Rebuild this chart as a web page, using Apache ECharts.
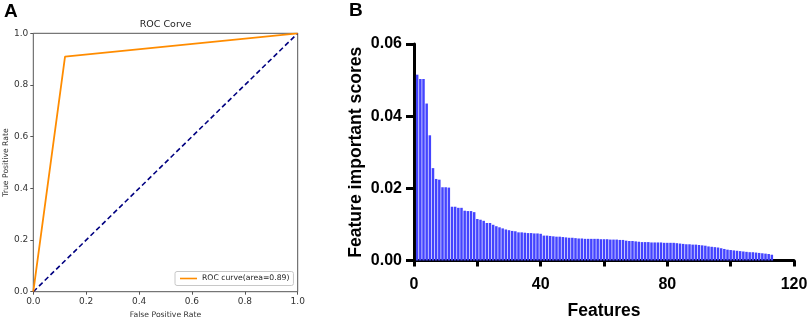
<!DOCTYPE html>
<html><head><meta charset="utf-8">
<script src="https://cdn.jsdelivr.net/npm/echarts@6/dist/echarts.min.js"></script>
<style>html,body{margin:0;padding:0;background:#fff}#c{width:809px;height:320px}</style>
</head><body><div id="c"></div>
<script>
// Panel A: ROC curve
const rocFpr = [0, 0.12, 1];
const rocTpr = [0, 0.91, 1];
const chanceFpr = [0, 1];
const chanceTpr = [0, 1];
const rocLabel = 'ROC curve(area=0.89)';

// Panel B: feature importance
const featureIndex = [1,2,3,4,5,6,7,8,9,10,11,12,13,14,15,16,17,18,19,20,21,22,23,24,25,26,27,28,29,30,31,32,33,34,35,36,37,38,39,40,41,42,43,44,45,46,47,48,49,50,51,52,53,54,55,56,57,58,59,60,61,62,63,64,65,66,67,68,69,70,71,72,73,74,75,76,77,78,79,80,81,82,83,84,85,86,87,88,89,90,91,92,93,94,95,96,97,98,99,100,101,102,103,104,105,106,107,108,109,110,111,112,113];
const importanceScores = [
 0.0515,0.0503,0.0503,0.0435,0.0347,0.0256,0.0226,0.0224,0.0203,0.0203,
 0.0202,0.0149,0.0149,0.0146,0.0146,0.0138,0.0137,0.0137,0.0134,0.0115,
 0.0113,0.0110,0.0104,0.0104,0.0099,0.0095,0.0092,0.0089,0.0086,0.0084,
 0.0082,0.0081,0.0078,0.0078,0.0077,0.0076,0.0076,0.0075,0.0075,0.0074,
 0.0069,0.0069,0.0068,0.0067,0.0066,0.0066,0.0065,0.0064,0.0063,0.0063,
 0.0062,0.0061,0.0061,0.0060,0.0060,0.0060,0.0060,0.0060,0.0059,0.0059,
 0.0059,0.0058,0.0058,0.0058,0.0057,0.0057,0.0055,0.0054,0.0054,0.0053,
 0.0052,0.0051,0.0051,0.0051,0.0050,0.0050,0.0050,0.0050,0.0049,0.0049,
 0.0049,0.0049,0.0048,0.0047,0.0046,0.0045,0.0045,0.0044,0.0044,0.0043,
 0.0042,0.0041,0.0039,0.0038,0.0037,0.0036,0.0034,0.0032,0.0030,0.0029,
 0.0028,0.0027,0.0026,0.0025,0.0024,0.0023,0.0023,0.0022,0.0021,0.0020,
 0.0019,0.0018,0.0016];
const featureTickLabels = [0, 40, 80, 120];

const mpl = 'DejaVu Sans';
const arial = 'Liberation Sans, Arial, sans-serif';

const chart = echarts.init(document.getElementById('c'), null, {renderer: 'canvas'});
chart.setOption({
  animation: false,
  backgroundColor: '#fff',
  title: [
    {text: 'A', left: 4, top: 2, padding: 0, textStyle: {fontFamily: arial, fontWeight: 'bold', fontSize: 19, color: '#000'}},
    {text: 'B', left: 349, top: 1, padding: 0, textStyle: {fontFamily: arial, fontWeight: 'bold', fontSize: 19, color: '#000'}},
    {text: 'ROC Corve', left: 165.5, textAlign: 'center', top: 20, padding: 0, textStyle: {fontFamily: mpl, fontWeight: 'normal', fontSize: 9.5, color: '#222'}}
  ],
  legend: {
    data: [rocLabel],
    left: 175, top: 271.5,
    padding: [3, 4, 3, 5],
    backgroundColor: '#fff',
    borderColor: '#c8c8c8', borderWidth: 1, borderRadius: 2,
    icon: 'rect', itemWidth: 17, itemHeight: 1.6,
    textStyle: {fontFamily: mpl, fontSize: 7.7, color: '#222'}
  },
  grid: [
    {left: 33.3, top: 33.3, width: 264.4, height: 258.4, show: true, borderColor: '#555', borderWidth: 1, backgroundColor: 'transparent', containLabel: false, outerBoundsMode: 'none'},
    {left: 414, top: 44, width: 380, height: 216.5, containLabel: false, outerBoundsMode: 'none'}
  ],
  xAxis: [
    {gridIndex: 0, type: 'value', min: 0, max: 1, interval: 0.2,
     axisLine: {show: false}, axisTick: {show: true, length: 3, lineStyle: {color: '#555'}},
     axisLabel: {fontFamily: mpl, fontSize: 9, color: '#333', margin: 5, showMinLabel: true, showMaxLabel: true, formatter: v => v.toFixed(1)},
     splitLine: {show: false},
     name: 'False Positive Rate', nameLocation: 'middle', nameGap: 17,
     nameTextStyle: {fontFamily: mpl, fontSize: 7.7, color: '#333'}},
    {gridIndex: 1, type: 'value', min: 0, max: 120, interval: 20,
     axisLine: {show: true, lineStyle: {color: '#000', width: 3}},
     axisTick: {show: true, length: 6, lineStyle: {color: '#000', width: 3}},
     axisLabel: {fontFamily: arial, fontWeight: 'bold', fontSize: 16, color: '#000', margin: 16, showMinLabel: true, showMaxLabel: true,
       formatter: v => featureTickLabels.indexOf(v) >= 0 ? String(v) : ''},
     splitLine: {show: false},
     name: 'Features', nameLocation: 'middle', nameGap: 42,
     nameTextStyle: {fontFamily: arial, fontWeight: 'bold', fontSize: 17.5, color: '#000'}}
  ],
  yAxis: [
    {gridIndex: 0, type: 'value', min: 0, max: 1, interval: 0.2,
     axisLine: {show: false}, axisTick: {show: true, length: 3, lineStyle: {color: '#555'}},
     axisLabel: {fontFamily: mpl, fontSize: 9, color: '#333', margin: 5, showMinLabel: true, showMaxLabel: true, formatter: v => v.toFixed(1)},
     splitLine: {show: false},
     name: 'True Positive Rate', nameLocation: 'middle', nameGap: 23,
     nameTextStyle: {fontFamily: mpl, fontSize: 7.7, color: '#333'}},
    {gridIndex: 1, type: 'value', min: 0, max: 0.06, interval: 0.02,
     axisLine: {show: true, lineStyle: {color: '#000', width: 3}},
     axisTick: {show: true, length: 8, lineStyle: {color: '#000', width: 3}},
     axisLabel: {fontFamily: arial, fontWeight: 'bold', fontSize: 16, color: '#000', margin: 12, showMinLabel: true, showMaxLabel: true, formatter: v => v.toFixed(2)},
     splitLine: {show: false},
     name: 'Feature important scores', nameLocation: 'middle', nameGap: 49,
     nameTextStyle: {fontFamily: arial, fontWeight: 'bold', fontSize: 17.6, color: '#000'}}
  ],
  series: [
    {name: 'chance', type: 'line', xAxisIndex: 0, yAxisIndex: 0, symbol: 'none',
     data: chanceFpr.map((x, i) => [x, chanceTpr[i]]),
     lineStyle: {color: '#000080', width: 1.6, type: [5, 3]}, z: 2},
    {name: rocLabel, type: 'line', xAxisIndex: 0, yAxisIndex: 0, symbol: 'none',
     data: rocFpr.map((x, i) => [x, rocTpr[i]]),
     itemStyle: {color: '#ff8c00'},
     lineStyle: {color: '#ff8c00', width: 1.8}, z: 3},
    {name: 'importance', type: 'bar', xAxisIndex: 1, yAxisIndex: 1,
     data: featureIndex.map((f, i) => [f, importanceScores[i]]),
     barWidth: 2.5,
     itemStyle: {color: '#4444ff'}}
  ]
});
</script>
</body></html>
